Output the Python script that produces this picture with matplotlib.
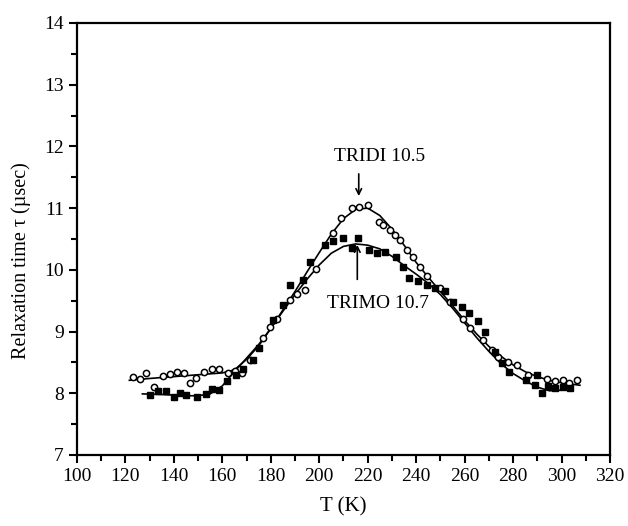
import matplotlib.pyplot as plt
from matplotlib.ticker import MultipleLocator

# TRIDI (open circles)
tridi_T = [123.1, 126, 128.5, 131.8, 135.5, 138.4, 141.3, 144.2, 146.6, 149.1, 152.4, 155.7,
           158.6, 162.3, 165.2, 168, 171.4, 176.8, 179.7, 182.4, 187.9, 190.9, 194.1, 198.6,
           205.8, 208.8, 213.4, 216.5, 220.2, 224.8, 226.4, 229.2, 231.3, 233.3, 236.1, 238.8,
           241.6, 244.3, 249.8, 254, 259.5, 262.2, 267.7, 271.1, 273.9, 278, 281.5, 286.3,
           294.1, 297.3, 300.5, 303.2, 306.2]
tridi_tau = [8.26, 8.23, 8.33, 8.10, 8.28, 8.31, 8.34, 8.33, 8.17, 8.25, 8.34, 8.39,
             8.39, 8.33, 8.36, 8.33, 8.54, 8.90, 9.08, 9.21, 9.51, 9.61, 9.68, 10.01,
             10.60, 10.84, 11.0, 11.02, 11.05, 10.78, 10.73, 10.65, 10.56, 10.48, 10.32, 10.21,
             10.05, 9.90, 9.70, 9.48, 9.21, 9.05, 8.86, 8.70, 8.59, 8.51, 8.46, 8.30,
             8.23, 8.20, 8.21, 8.17, 8.21]

# TRIMO (filled squares)
trimo_T = [130, 133.4, 136.7, 140, 142.5, 145, 149.5, 153.2, 155.7, 158.6, 161.9, 165.5,
           168.6, 172.8, 175.2, 181, 185.1, 187.9, 193.1, 196.2, 202.4, 205.8, 209.6, 213.4,
           216.1, 220.7, 224, 227.1, 231.7, 234.7, 237.2, 240.9, 244.3, 247.8, 251.9, 255.3,
           258.8, 261.9, 265.6, 268.4, 272.5, 275.3, 278.4, 285.3, 289, 289.7, 291.8, 294.5,
           297.3, 300.5, 303.5]
trimo_tau = [7.97, 8.04, 8.04, 7.94, 8.00, 7.97, 7.94, 7.99, 8.07, 8.05, 8.20, 8.30,
             8.40, 8.54, 8.73, 9.19, 9.43, 9.75, 9.84, 10.13, 10.40, 10.46, 10.51, 10.35,
             10.51, 10.32, 10.28, 10.29, 10.21, 10.05, 9.86, 9.82, 9.75, 9.70, 9.65, 9.48,
             9.40, 9.30, 9.17, 9.00, 8.67, 8.49, 8.35, 8.21, 8.13, 8.30, 8.00, 8.12,
             8.08, 8.10, 8.08]

# fitted curves
fit1_T = [121.6, 130, 140, 150, 160, 165, 170, 175, 180, 185, 190, 195, 200, 205, 210, 215,
          220, 225, 230, 235, 240, 245, 250, 255, 260, 265, 270, 275, 280, 285, 290, 295,
          300, 307.6]
fit1_tau = [8.21, 8.24, 8.27, 8.30, 8.33, 8.38, 8.55, 8.77, 9.05, 9.35, 9.65, 9.97, 10.28,
            10.58, 10.83, 10.98, 11.0, 10.88, 10.66, 10.40, 10.12, 9.88, 9.65, 9.42, 9.18,
            8.96, 8.76, 8.60, 8.46, 8.35, 8.27, 8.21, 8.17, 8.13]

fit2_T = [127, 135, 145, 150, 155, 160, 165, 170, 175, 180, 185, 190, 195, 200, 205, 210,
          215, 220, 225, 230, 235, 240, 245, 250, 255, 260, 265, 270, 275, 280, 285, 290,
          295, 300, 303.5]
fit2_tau = [7.99, 7.98, 7.96, 7.96, 7.99, 8.12, 8.35, 8.57, 8.79, 9.05, 9.33, 9.60, 9.85,
            10.08, 10.27, 10.38, 10.42, 10.40, 10.34, 10.22, 10.07, 9.93, 9.78, 9.60, 9.38,
            9.14, 8.90, 8.68, 8.48, 8.32, 8.20, 8.10, 8.04, 8.05, 8.08]

plt.rcParams['font.family'] = ['Liberation Serif', 'DejaVu Serif']

fig = plt.figure(figsize=(6.28, 5.26), dpi=100)
ax = fig.add_axes([0.1226, 0.135, 0.8487, 0.8213])

ax.plot(fit1_T, fit1_tau, color='black', lw=1.2)
ax.plot(fit2_T, fit2_tau, color='black', lw=1.2)
ax.plot(tridi_T, tridi_tau, 'o', mfc='white', mec='black', mew=1.1, ms=4.5)
ax.plot(trimo_T, trimo_tau, 's', color='black', ms=4.5)

ax.annotate('', xy=(216.3, 11.15), xytext=(216.3, 11.6),
            arrowprops=dict(arrowstyle='->', color='black', lw=1.2))
ax.text(225, 11.83, 'TRIDI 10.5', ha='center', va='center', fontsize=14)
ax.annotate('', xy=(215.7, 10.45), xytext=(215.7, 9.8),
            arrowprops=dict(arrowstyle='->', color='black', lw=1.2))
ax.text(224.3, 9.45, 'TRIMO 10.7', ha='center', va='center', fontsize=14)

ax.set_xlim(100, 320)
ax.set_ylim(7, 14)
ax.xaxis.set_major_locator(MultipleLocator(20))
ax.xaxis.set_minor_locator(MultipleLocator(10))
ax.yaxis.set_major_locator(MultipleLocator(1))
ax.yaxis.set_minor_locator(MultipleLocator(0.5))
ax.tick_params(which='major', direction='out', length=6, width=1.5, labelsize=14)
ax.tick_params(which='minor', direction='out', length=4, width=1.5)
for s in ax.spines.values():
    s.set_linewidth(1.6)

ax.set_xlabel('T (K)', fontsize=15, labelpad=9)
ax.set_ylabel('Relaxation time τ (µsec)', fontsize=14.5)
ax.yaxis.set_label_coords(-0.086, 0.449)

fig.savefig('out.png', dpi=100)
